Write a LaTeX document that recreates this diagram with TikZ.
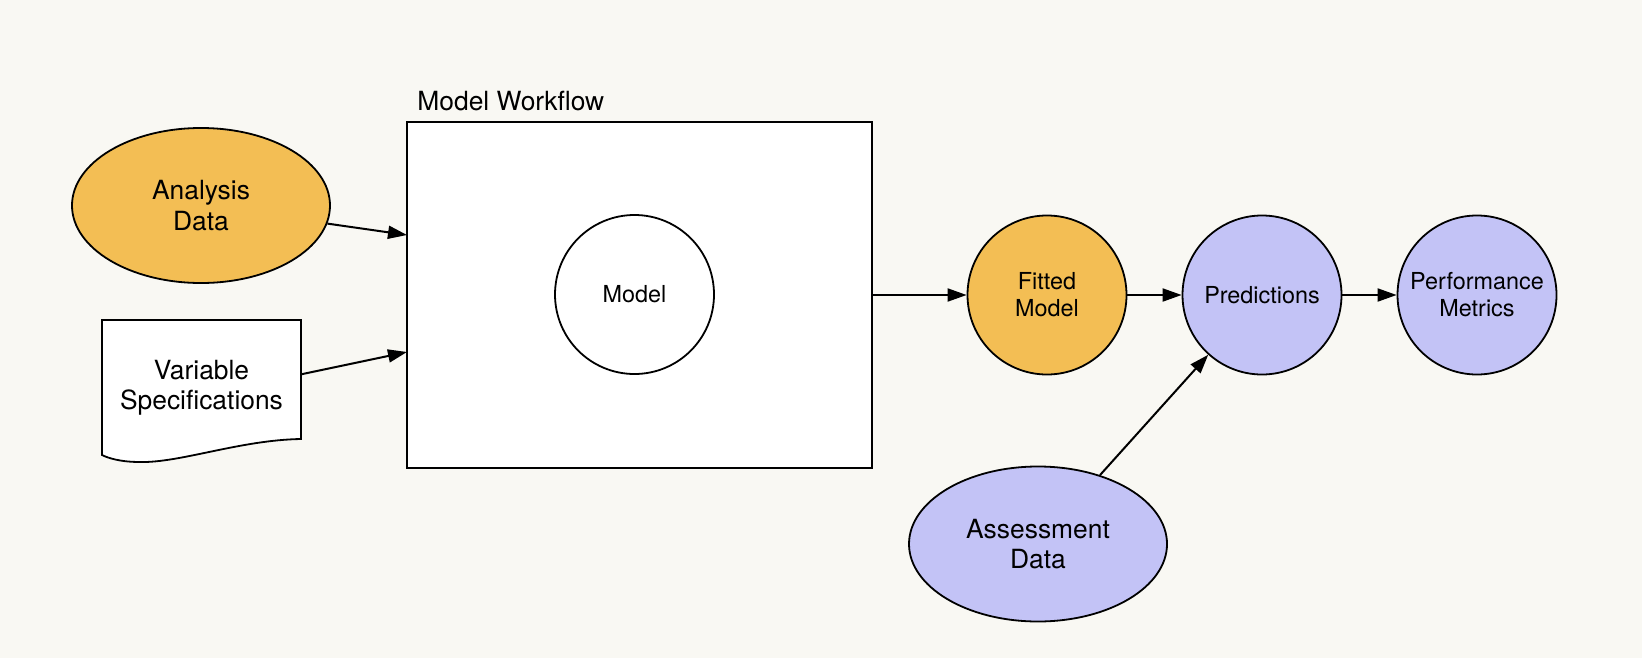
\documentclass[tikz,border=0pt]{standalone}
\usepackage{fontspec}
\setmainfont{TeX Gyre Heros}
\usetikzlibrary{shapes.geometric,arrows.meta}
\definecolor{bgc}{RGB}{249,248,243}
\definecolor{orangec}{RGB}{243,190,84}
\definecolor{lavc}{RGB}{195,195,246}
\tikzset{
  conn/.style={line width=1pt,-{Triangle[length=9.5pt,width=6.5pt]}},
  bigtxt/.style={font=\fontsize{13.2}{15.2}\selectfont,align=center},
  smalltxt/.style={font=\fontsize{11.7}{13.4}\selectfont,align=center},
  oval/.style={ellipse,draw,line width=0.9pt,minimum width=129pt,minimum height=77.5pt,inner sep=0pt,bigtxt},
  ball/.style={circle,draw,line width=0.9pt,minimum size=79.5pt,inner sep=0pt,smalltxt},
}
\begin{document}
\begin{tikzpicture}[x=0.5pt,y=-0.5pt]
\fill[bgc] (0,0) rectangle (1642,658);
\useasboundingbox (0,0) rectangle (1642,658);
% Model workflow box
\node[draw,fill=white,line width=1pt,minimum width=232.5pt,minimum height=172.75pt,inner sep=0pt] (wf) at (639.5,295) {};
\node[bigtxt,anchor=base west,inner sep=0pt] (wflabel) at (417,111) {Model Workflow};
\coordinate (wfA) at (407,235);
\coordinate (wfB) at (407,352);
\node[ball,fill=white] (model) at (634.5,294.5) {Model};
% Analysis data
\node[oval,fill=orangec] (ad) at (201,205.5) {Analysis\\Data};
% Variable specifications document
\draw[fill=white,line width=0.9pt] (102,320) -- (301,320) -- (301,439)
  .. controls (240,440) and (180,463) .. (140,462)
  .. controls (120,462) and (108,458) .. (102,455) -- cycle;
\node[minimum width=99.5pt,minimum height=59.5pt,inner sep=0pt] (vs) at (201.5,379.5) {};
\node[bigtxt] (vstxt) at (201.5,388) {Variable\\Specifications};
% right side
\node[ball,fill=orangec] (fit) at (1047,295) {Fitted\\Model};
\node[ball,fill=lavc] (pred) at (1262,295) {Predictions};
\node[ball,fill=lavc] (perf) at (1477,295) {Performance\\Metrics};
\node[oval,fill=lavc] (asm) at (1038,544) {Assessment\\Data};
% connectors
\draw[conn] (ad) -- (wfA);
\draw[conn] (vs.3) -- (wfB);
\draw[conn] (wf.east) -- (fit);
\draw[conn] (fit) -- (pred);
\draw[conn] (pred) -- (perf);
\draw[conn] (asm) -- (pred);
\end{tikzpicture}
\end{document}
